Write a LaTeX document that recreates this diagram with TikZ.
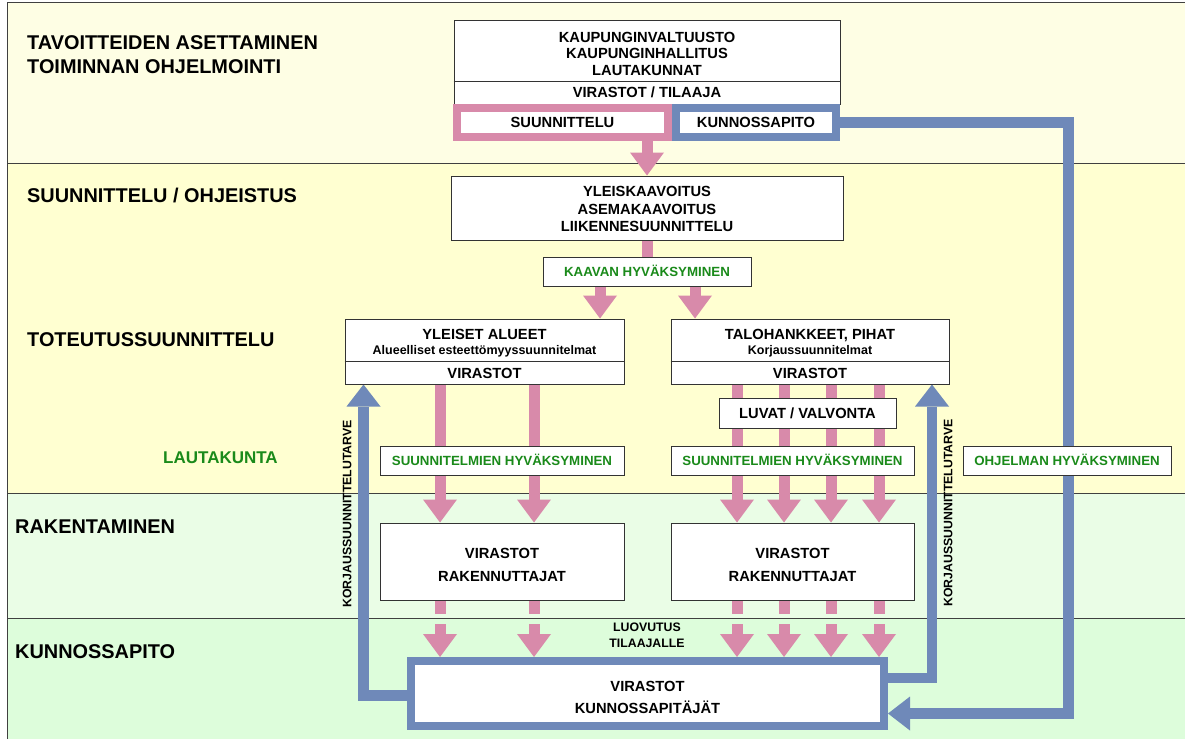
\documentclass[tikz,border=0pt]{standalone}
\usepackage{fontspec}
\setmainfont{Liberation Sans}
\usetikzlibrary{arrows.meta,calc}
\pgfdeclarelayer{bands}
\pgfdeclarelayer{links}
\pgfsetlayers{bands,links,main}
\definecolor{bandA}{HTML}{FEFEE4}
\definecolor{bandB}{HTML}{FFFFD1}
\definecolor{bandC}{HTML}{EAFDE6}
\definecolor{bandD}{HTML}{DDFDDB}
\definecolor{pnk}{HTML}{D88AAA}
\definecolor{blu}{HTML}{6F89B9}
\definecolor{grn}{HTML}{1A8A1A}
\definecolor{edgecol}{HTML}{333333}
\definecolor{bandline}{HTML}{404040}
\begin{document}
\begin{tikzpicture}[x=1pt,y=-1pt,
  bx/.style={draw=edgecol, line width=1pt, fill=white, inner sep=0pt},
  tb/.style={inner sep=0pt, text depth=0pt, text height=10.5pt, font=\bfseries\fontsize{14.7}{17}\selectfont},
  tsub/.style={inner sep=0pt, text depth=0pt, text height=9pt, font=\bfseries\fontsize{12.5}{15}\selectfont},
  tg/.style={inner sep=0pt, text depth=0pt, text height=9.5pt, text=grn, font=\bfseries\fontsize{13.3}{15}\selectfont},
  tl/.style={anchor=west, inner sep=0pt, text depth=0pt, text height=14.1pt, font=\bfseries\fontsize{19.9}{22}\selectfont},
  tlg/.style={anchor=west, inner sep=0pt, text depth=0pt, text height=12pt, text=grn, font=\bfseries\fontsize{17}{20}\selectfont},
  ts/.style={inner sep=0pt, text depth=0pt, text height=8.8pt, font=\bfseries\fontsize{12.3}{14}\selectfont},
  pshaft/.style={draw=pnk, line width=11pt},
  parrow/.style={pshaft, -{Triangle[length=23pt,width=34pt,line width=0pt]}},
  bline/.style={draw=blu, line width=10.5pt},
  barrow/.style={bline, -{Triangle[length=22pt,width=34pt,line width=0pt]}},
  pframe/.style={draw=pnk, line width=8pt, fill=white, inner sep=0pt},
  bframe/.style={draw=blu, line width=8pt, fill=white, inner sep=0pt},
  sep/.style={draw=edgecol, line width=1pt},
  bandrule/.style={draw=bandline, line width=1pt}
]
\useasboundingbox (0,0) rectangle (1185,739);

\begin{pgfonlayer}{bands}
\fill[bandA] (7,2) rectangle (1185,163);
\fill[bandB] (7,163) rectangle (1185,493);
\fill[bandC] (7,493) rectangle (1185,618);
\fill[bandD] (7,618) rectangle (1185,739);
\draw[bandrule] (7,739) -- (7,2) -- (1185,2);
\draw[bandrule] (7,163) -- (1185,163);
\draw[bandrule] (7,493) -- (1185,493);
\draw[bandrule] (7,618) -- (1185,618);
\end{pgfonlayer}

% left labels
\node[tl] (l1) at (27,42) {TAVOITTEIDEN ASETTAMINEN};
\node[tl] (l2) at (27,66) {TOIMINNAN OHJELMOINTI};
\node[tl] (l3) at (27,195) {SUUNNITTELU / OHJEISTUS};
\node[tl] (l4) at (27,339.5) {TOTEUTUSSUUNNITTELU};
\node[tlg] (l5) at (163,457.5) {LAUTAKUNTA};
\node[tl] (l6) at (15,526) {RAKENTAMINEN};
\node[tl] (l7) at (15,651.5) {KUNNOSSAPITO};

% top box
\node[bx, minimum width=386pt, minimum height=84pt] (topb) at (647,62) {};
\coordinate (d1) at (0,81);
\draw[sep] (topb.west |- d1) -- (topb.east |- d1);
\node[tb] (t1) at (647,37) {KAUPUNGINVALTUUSTO};
\node[tb] (t2) at (647,53) {KAUPUNGINHALLITUS};
\node[tb] (t3) at (647,70) {LAUTAKUNNAT};
\node[tb] (t4) at (647,92.5) {VIRASTOT / TILAAJA};
\node[pframe, tb, minimum width=211pt, minimum height=29pt] (sun) at (562.5,122.5) {SUUNNITTELU};
\node[bframe, tb, minimum width=160pt, minimum height=29pt] (kun) at (756,122.5) {KUNNOSSAPITO};

% planning box
\node[bx, minimum width=392pt, minimum height=64pt] (yl) at (647,208) {};
\node[tb] (y1) at (647,191) {YLEISKAAVOITUS};
\node[tb] (y2) at (647,209) {ASEMAKAAVOITUS};
\node[tb] (y3) at (647,226) {LIIKENNESUUNNITTELU};
\node[bx, tg, minimum width=208pt, minimum height=29pt] (kaav) at (647,271.5) {KAAVAN HYVÄKSYMINEN};

% implementation boxes
\coordinate (d2) at (0,361);
\node[bx, minimum width=279pt, minimum height=65pt] (yle) at (484.5,351.5) {};
\draw[sep] (yle.west |- d2) -- (yle.east |- d2);
\node[tb] (a1) at (484.5,334) {YLEISET ALUEET};
\node[tsub] (a2) at (484.5,350) {Alueelliset esteettömyyssuunnitelmat};
\node[tb] (a3) at (484.5,373) {VIRASTOT};
\node[bx, minimum width=278pt, minimum height=65pt] (talo) at (810,351.5) {};
\draw[sep] (talo.west |- d2) -- (talo.east |- d2);
\node[tb] (b1) at (810,334) {TALOHANKKEET, PIHAT};
\node[tsub] (b2) at (810,350) {Korjaussuunnitelmat};
\node[tb] (b3) at (810,373) {VIRASTOT};

\node[bx, tb, minimum width=177pt, minimum height=30pt] (luv) at (807.5,413) {LUVAT / VALVONTA};
\node[bx, tg, minimum width=244pt, minimum height=29pt] (sL) at (502,460.5) {SUUNNITELMIEN HYVÄKSYMINEN};
\node[bx, tg, minimum width=243pt, minimum height=29pt] (sR) at (792.5,460.5) {SUUNNITELMIEN HYVÄKSYMINEN};
\node[bx, tg, minimum width=208pt, minimum height=29pt] (ohj) at (1067,460.5) {OHJELMAN HYVÄKSYMINEN};

% construction boxes
\node[bx, minimum width=244pt, minimum height=77pt] (rakL) at (502,561.5) {};
\node[tb] (r1) at (502,553) {VIRASTOT};
\node[tb] (r2) at (502,576) {RAKENNUTTAJAT};
\node[bx, minimum width=243pt, minimum height=77pt] (rakR) at (792.5,561.5) {};
\node[tb] (r3) at (792.5,553) {VIRASTOT};
\node[tb] (r4) at (792.5,576) {RAKENNUTTAJAT};

% maintenance
\node[ts] (lv1) at (647,627) {LUOVUTUS};
\node[ts] (lv2) at (647,643) {TILAAJALLE};
\node[bframe, minimum width=473pt, minimum height=65pt] (bot) at (647.5,693.5) {};
\node[tb] (m1) at (647.5,686) {VIRASTOT};
\node[tb] (m2) at (647.5,708) {KUNNOSSAPITÄJÄT};

\node[ts, rotate=90] (kL) at (347,514) {KORJAUSSUUNNITTELUTARVE};
\node[ts, rotate=90] (kR) at (948,513) {KORJAUSSUUNNITTELUTARVE};

\begin{pgfonlayer}{links}
% pink flow
\draw[parrow] (yl.north |- sun.south) -- (yl.north);
\draw[pshaft] (yl.south) -- (kaav.north);
\coordinate (k1) at ($(kaav.south)+(-47,0)$);
\coordinate (k2) at ($(kaav.south)+(48,0)$);
\draw[parrow] (k1) -- (k1 |- yle.north);
\draw[parrow] (k2) -- (k2 |- talo.north);
\coordinate (cA) at (440,0);
\coordinate (cB) at (534,0);
\coordinate (cC) at (737,0);
\coordinate (cD) at (784,0);
\coordinate (cE) at (831,0);
\coordinate (cF) at (879,0);
\foreach \c in {cA,cB}{
  \draw[parrow] (\c |- yle.south) -- (\c |- rakL.north);
  \draw[pshaft] (\c |- rakL.south) -- ($(\c |- rakL.south)+(0,13)$);
  \draw[parrow] ($(\c |- bot.north)+(0,-33)$) -- (\c |- bot.north);
}
\foreach \c in {cC,cD,cE,cF}{
  \draw[parrow] (\c |- talo.south) -- (\c |- rakR.north);
  \draw[pshaft] (\c |- rakR.south) -- ($(\c |- rakR.south)+(0,13)$);
  \draw[parrow] ($(\c |- bot.north)+(0,-33)$) -- (\c |- bot.north);
}
% blue loops
\coordinate (loopX) at (1068.5,0);
\coordinate (bin) at ($(bot.east)+(0,20)$);
\draw[barrow] (kun.east) -| (loopX |- bin) -- (bin);
\coordinate (bR) at ($(bot.east)+(0,-15.5)$);
\coordinate (cR) at (932,0);
\draw[barrow] (bR) -| (cR |- talo.south);
\coordinate (bL) at ($(bot.west)+(0,2)$);
\coordinate (cLb) at (363.5,0);
\draw[barrow] (bL) -| (cLb |- yle.south);
\end{pgfonlayer}
\end{tikzpicture}
\end{document}
